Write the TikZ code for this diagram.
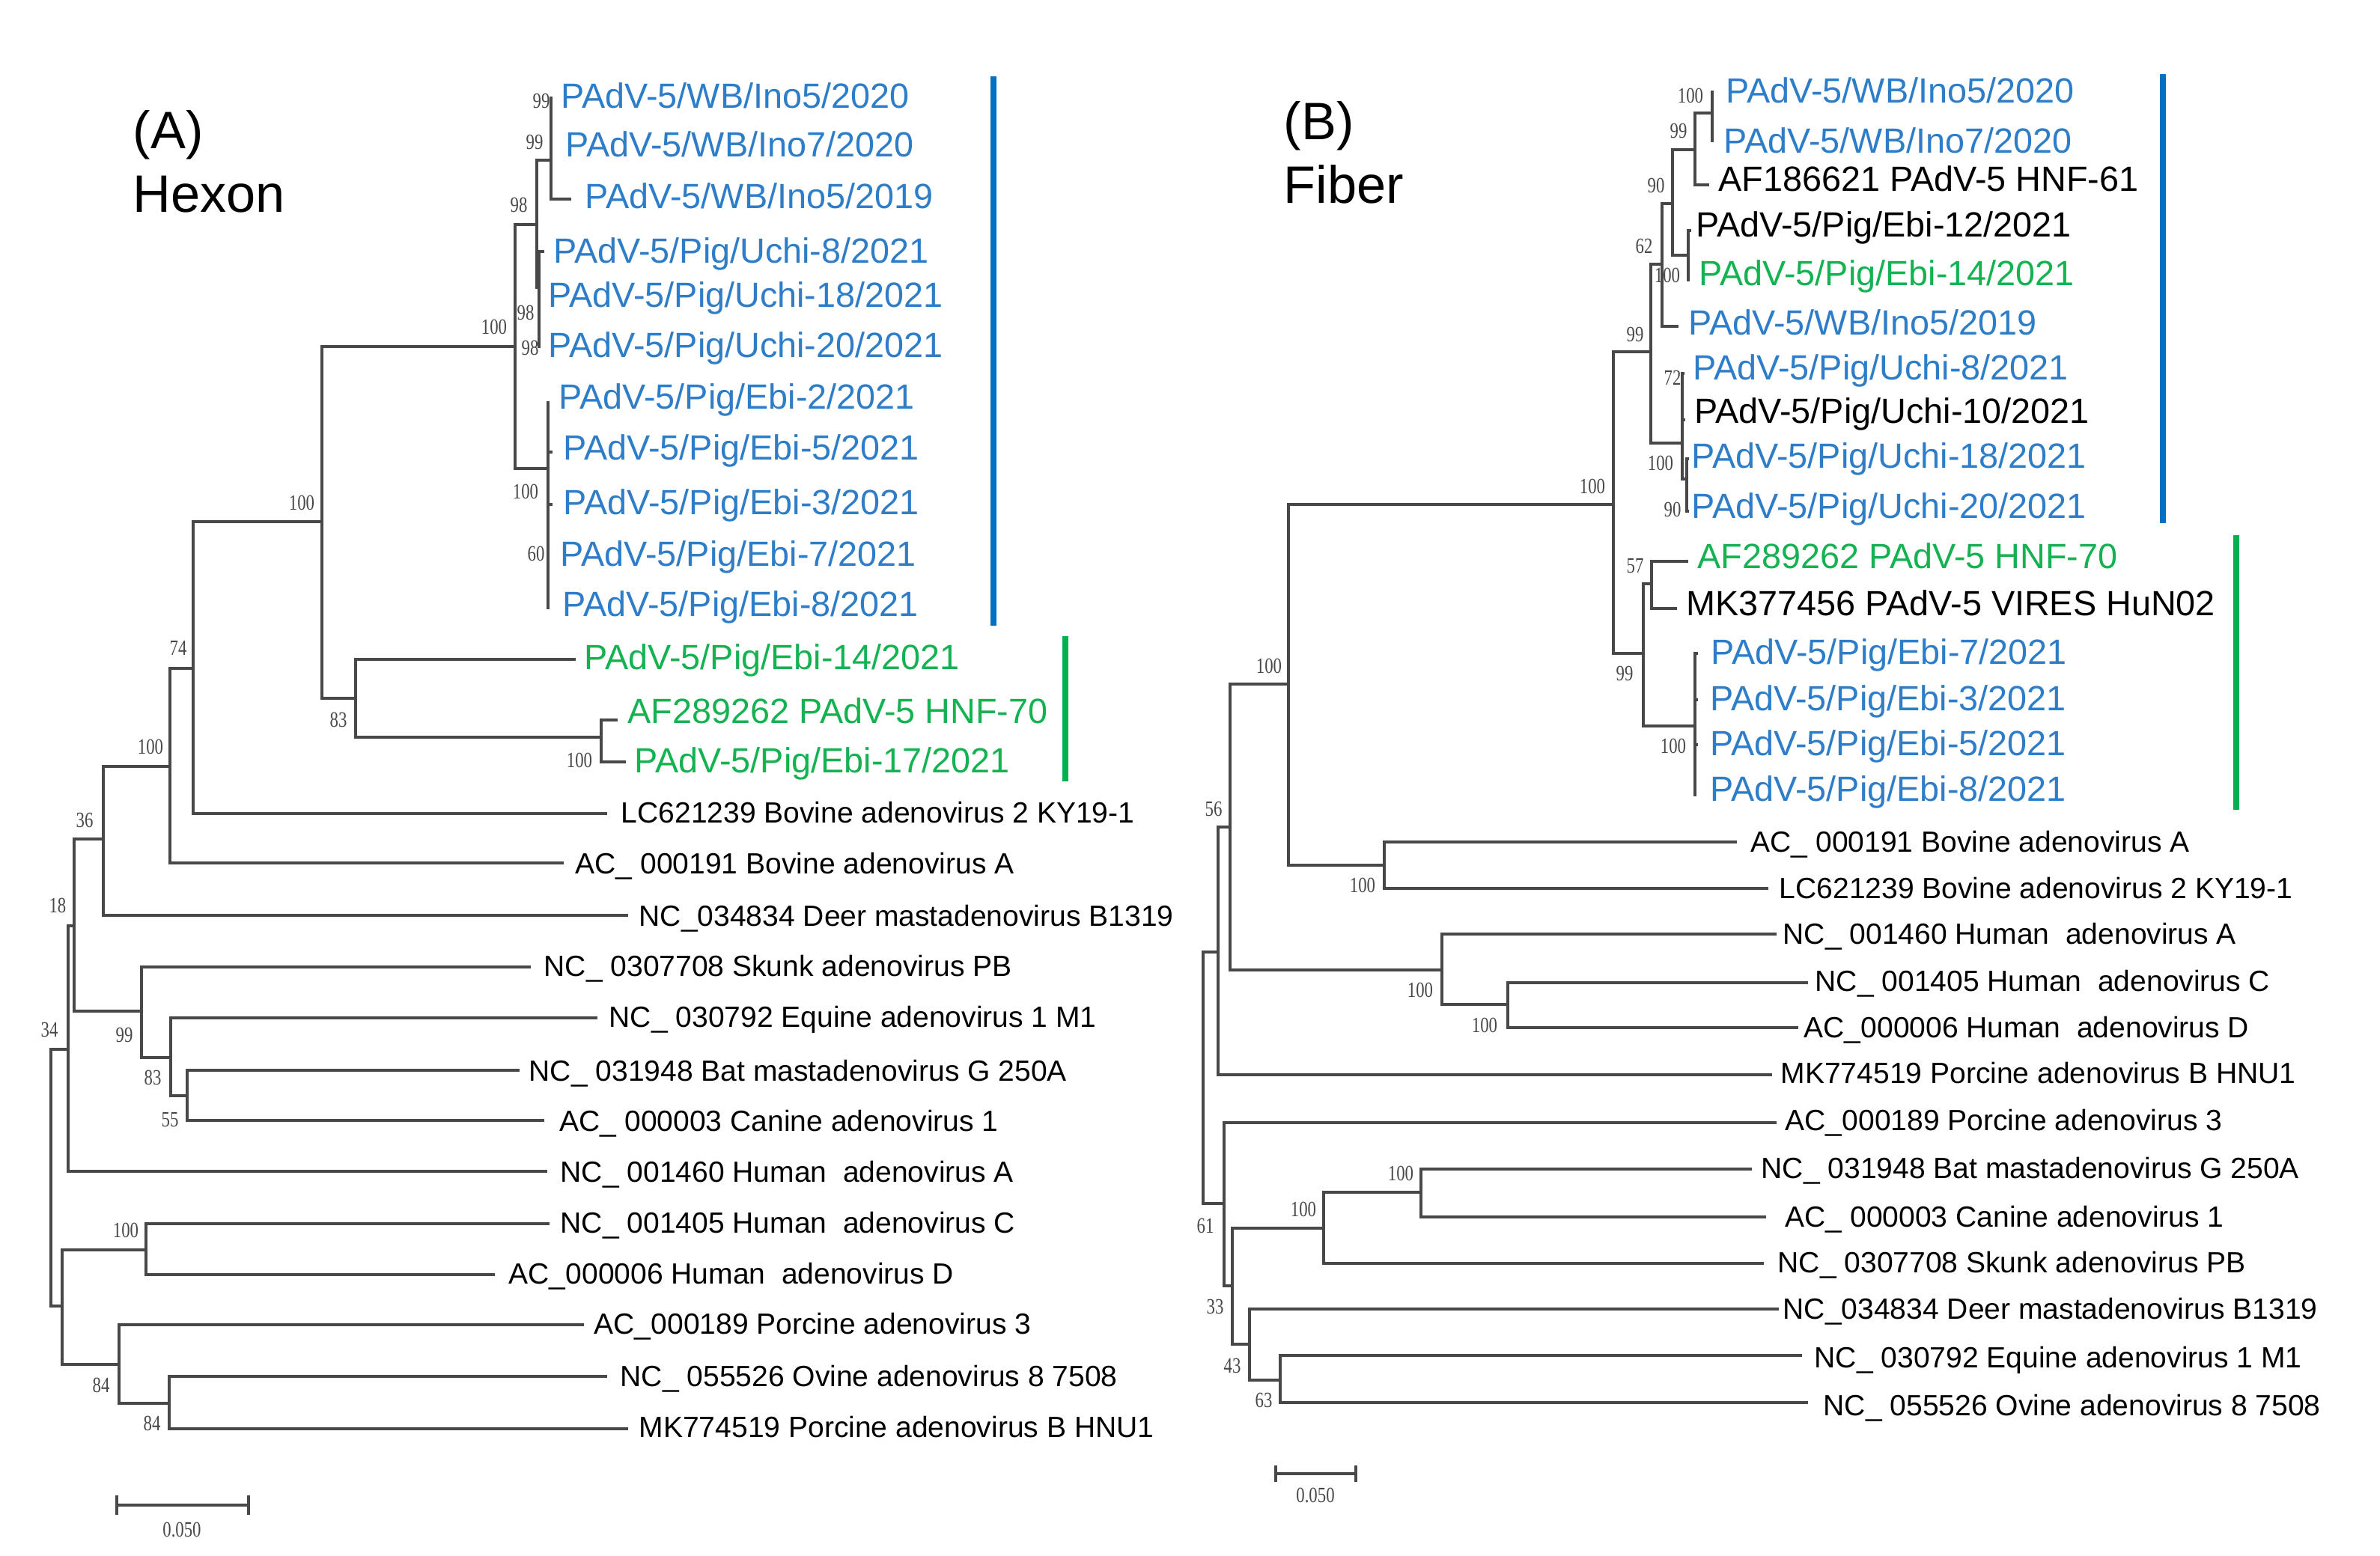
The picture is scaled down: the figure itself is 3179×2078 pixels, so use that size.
\documentclass[tikz,border=0pt]{standalone}
\usepackage{fontspec}
\setmainfont{Liberation Sans}
\newfontfamily\bsfont{Liberation Serif}
\usepackage{graphicx}
\definecolor{tblue}{RGB}{46,125,200}
\definecolor{tgreen}{RGB}{20,178,80}
\definecolor{bblue}{RGB}{0,112,192}
\definecolor{bgreen}{RGB}{0,176,80}
\definecolor{tgray}{RGB}{72,72,72}
\newcommand{\bsv}[1]{\scalebox{0.78}[1]{#1}}
\newcommand{\lf}[8]{\coordinate (t#1) at (#3,#4); \node[#7] (l#1) at (#5,#6) {#8}; \draw[branch] (#2) |- (t#1);}
\newcommand{\tbr}[2]{\draw[branch] (#1) |- (#2);}
\newcommand{\bt}[3]{\node[boot] (#1) at (#2) {\bsv{#3}};}
\begin{document}
\begin{tikzpicture}[x=0.01cm,y=-0.01cm,
  branch/.style={draw=tgray,line width=1pt},
  big/.style={anchor=west,inner sep=0pt,font=\fontsize{13.3}{13.3}\selectfont,text height=9.5pt,text depth=0pt},
  small/.style={anchor=west,inner sep=0pt,font=\fontsize{11.1}{11.1}\selectfont,text height=7.95pt,text depth=0pt},
  boot/.style={inner sep=0pt,font=\bsfont\fontsize{8.3}{8.3}\selectfont,text=tgray},
  ttl/.style={anchor=base west,inner sep=0pt,font=\fontsize{20}{20}\selectfont},
  barline/.style={line width=2.3pt}]
\fill[white] (0,0) rectangle (3179,2078);
\useasboundingbox (0,0) rectangle (3179,2078);

% ---------- titles ----------
\node[ttl] (tA) at (177,198) {(A)};
\node[ttl] (hA) at (177,283) {Hexon};
\node[ttl] (tB) at (1714,186) {(B)};
\node[ttl] (hB) at (1714,271) {Fiber};

% ---------- panel A internal nodes ----------
\coordinate (aroot) at (68,1574);
\coordinate (a18) at (91,1402);
\coordinate (ax) at (99,1237);
\coordinate (a36) at (138,1121);
\coordinate (a100a) at (227,1024);
\coordinate (a74) at (258,893);
\coordinate (a100d) at (430,697);
\coordinate (ablue) at (688,463);
\coordinate (aup) at (717,300);
\coordinate (awb) at (736,214);
\coordinate (auchi) at (720,384);
\coordinate (aebi) at (732,626);
\coordinate (a83) at (475,933);
\coordinate (aaf) at (803,985);
\coordinate (a99) at (189,1351);
\coordinate (a83b) at (228,1413);
\coordinate (a55) at (250,1464);
\coordinate (ab) at (83,1745);
\coordinate (a100c) at (195,1670);
\coordinate (a84a) at (159,1823);
\coordinate (a84b) at (226,1875);

\tbr{aroot}{a18} \tbr{aroot}{ab}
\tbr{a18}{ax}
\tbr{ax}{a36} \tbr{ax}{a99}
\tbr{a36}{a100a}
\tbr{a100a}{a74}
\tbr{a74}{a100d}
\tbr{a100d}{ablue} \tbr{a100d}{a83}
\tbr{ablue}{aup} \tbr{ablue}{aebi}
\tbr{aup}{awb} \tbr{aup}{auchi}
\tbr{a83}{aaf}
\tbr{a99}{a83b}
\tbr{a83b}{a55}
\tbr{ab}{a100c} \tbr{ab}{a84a}
\tbr{a84a}{a84b}

% ---------- panel A leaves ----------
\lf{A1}{awb}{738}{131}{749}{128}{big,text=tblue}{PAdV-5/WB/Ino5/2020}
\lf{A2}{awb}{738}{193}{755}{193}{big,text=tblue}{PAdV-5/WB/Ino7/2020}
\lf{A3}{awb}{763}{266}{781}{262}{big,text=tblue}{PAdV-5/WB/Ino5/2019}
\lf{A4}{auchi}{727}{336}{739}{335}{big,text=tblue}{PAdV-5/Pig/Uchi-8/2021}
\lf{A5}{auchi}{722}{397}{732}{394}{big,text=tblue}{PAdV-5/Pig/Uchi-18/2021}
\lf{A6}{auchi}{722}{463}{732}{461}{big,text=tblue}{PAdV-5/Pig/Uchi-20/2021}
\lf{A7}{aebi}{734}{538}{746}{530}{big,text=tblue}{PAdV-5/Pig/Ebi-2/2021}
\lf{A8}{aebi}{738}{604}{752}{598}{big,text=tblue}{PAdV-5/Pig/Ebi-5/2021}
\lf{A9}{aebi}{738}{674}{752}{671}{big,text=tblue}{PAdV-5/Pig/Ebi-3/2021}
\lf{A10}{aebi}{734}{742}{748}{740}{big,text=tblue}{PAdV-5/Pig/Ebi-7/2021}
\lf{A11}{aebi}{734}{812}{751}{807}{big,text=tblue}{PAdV-5/Pig/Ebi-8/2021}
\lf{A12}{a83}{769}{881}{780}{878}{big,text=tgreen}{PAdV-5/Pig/Ebi-14/2021}
\lf{A13}{aaf}{825}{962}{838}{950}{big,text=tgreen}{AF289262 PAdV-5 HNF-70}
\lf{A14}{aaf}{836}{1018}{847}{1016}{big,text=tgreen}{PAdV-5/Pig/Ebi-17/2021}
\lf{A15}{a74}{811}{1087}{829}{1085}{small}{LC621239 Bovine adenovirus 2 KY19-1}
\lf{A16}{a100a}{753}{1153}{768}{1153}{small}{AC\_ 000191 Bovine adenovirus A}
\lf{A17}{a36}{839}{1223}{853}{1223}{small}{NC\_034834 Deer mastadenovirus B1319}
\lf{A18}{a99}{709}{1292}{726}{1290}{small}{NC\_ 0307708 Skunk adenovirus PB}
\lf{A19}{a83b}{798}{1360}{813}{1358}{small}{NC\_ 030792 Equine adenovirus 1 M1}
\lf{A20}{a55}{694}{1430}{706}{1430}{small}{NC\_ 031948 Bat mastadenovirus G 250A}
\lf{A21}{a55}{727}{1497}{747}{1497}{small}{AC\_ 000003 Canine adenovirus 1}
\lf{A22}{a18}{731}{1565}{748}{1565}{small}{NC\_ 001460 Human~~adenovirus A}
\lf{A23}{a100c}{734}{1635}{748}{1633}{small}{NC\_ 001405 Human~~adenovirus C}
\lf{A24}{a100c}{661}{1703}{679}{1701}{small}{AC\_000006 Human~~adenovirus D}
\lf{A25}{a84a}{780}{1770}{793}{1768}{small}{AC\_000189 Porcine adenovirus 3}
\lf{A26}{a84b}{811}{1839}{828}{1838}{small}{NC\_ 055526 Ovine adenovirus 8 7508}
\lf{A27}{a84b}{839}{1909}{853}{1906}{small}{MK774519 Porcine adenovirus B HNU1}

% ---------- panel A bootstrap ----------
\bt{bA1}{723,135}{99}
\bt{bA2}{714,190}{99}
\bt{bA3}{693,274}{98}
\bt{bA4}{702,418}{98}
\bt{bA5}{708,465}{98}
\bt{bA6}{660,437}{100}
\bt{bA7}{702,657}{100}
\bt{bA8}{716,740}{60}
\bt{bA9}{403,672}{100}
\bt{bA10}{452,962}{83}
\bt{bA11}{774,1016}{100}
\bt{bA12}{238,866}{74}
\bt{bA13}{201,998}{100}
\bt{bA14}{113,1096}{36}
\bt{bA15}{77,1210}{18}
\bt{bA16}{166,1383}{99}
\bt{bA17}{204,1440}{83}
\bt{bA18}{227,1496}{55}
\bt{bA19}{66,1376}{34}
\bt{bA20}{168,1644}{100}
\bt{bA21}{135,1851}{84}
\bt{bA22}{203,1902}{84}

% ---------- panel A bars and scale ----------
\coordinate (barA1) at (1327,102); \coordinate (barA2) at (1327,836);
\draw[barline,bblue] (barA1) -- (barA2);
\coordinate (barA3) at (1423,850); \coordinate (barA4) at (1423,1044);
\draw[barline,bgreen] (barA3) -- (barA4);
\coordinate (sA1) at (156,2011); \coordinate (sA2) at (332,2011);
\draw[branch] (sA1) -- (sA2);
\draw[branch] (sA1) ++(0,-13) -- ++(0,26);
\draw[branch] (sA2) ++(0,-13) -- ++(0,26);
\bt{sAl}{243,2044}{0.050}

% ---------- panel B internal nodes ----------
\coordinate (broot) at (1607,1440);
\coordinate (ba) at (1627,1272);
\coordinate (bc) at (1643,1105);
\coordinate (b100a) at (1721,914);
\coordinate (bbov) at (1849,1156);
\coordinate (bhum) at (1926,1296);
\coordinate (bcd) at (2014,1342);
\coordinate (b61) at (1635,1608);
\coordinate (b33) at (1646,1718);
\coordinate (b100x) at (1768,1641);
\coordinate (b100y) at (1898,1593);
\coordinate (b43) at (1669,1796);
\coordinate (b63) at (1710,1844);
\coordinate (bpad) at (2155,674);
\coordinate (b99) at (2205,470);
\coordinate (b62) at (2220,353);
\coordinate (b90) at (2234,272);
\coordinate (b99t) at (2264,200);
\coordinate (b100t) at (2287,151);
\coordinate (bebi) at (2255,341);
\coordinate (buchi) at (2247,592);
\coordinate (bu2) at (2253,640);
\coordinate (b99b) at (2195,873);
\coordinate (b57) at (2206,780);
\coordinate (bebiB) at (2264,970);

\tbr{broot}{ba} \tbr{broot}{b61}
\tbr{ba}{bc}
\tbr{bc}{b100a} \tbr{bc}{bhum}
\tbr{b100a}{bpad} \tbr{b100a}{bbov}
\tbr{bhum}{bcd}
\tbr{b61}{b33}
\tbr{b33}{b100x} \tbr{b33}{b43}
\tbr{b100x}{b100y}
\tbr{b43}{b63}
\tbr{bpad}{b99} \tbr{bpad}{b99b}
\tbr{b99}{b62} \tbr{b99}{buchi}
\tbr{b62}{b90}
\tbr{b90}{b99t} \tbr{b90}{bebi}
\tbr{b99t}{b100t}
\tbr{buchi}{bu2}
\tbr{b99b}{b57} \tbr{b99b}{bebiB}

% ---------- panel B leaves ----------
\lf{B1}{b100t}{2289}{123}{2305}{121}{big,text=tblue}{PAdV-5/WB/Ino5/2020}
\lf{B2}{b100t}{2289}{188}{2302}{188}{big,text=tblue}{PAdV-5/WB/Ino7/2020}
\lf{B3}{b99t}{2283}{247}{2295}{239}{big}{AF186621 PAdV-5 HNF-61}
\lf{B4}{bebi}{2259}{308}{2265}{300}{big}{PAdV-5/Pig/Ebi-12/2021}
\lf{B5}{bebi}{2257}{374}{2269}{365}{big,text=tgreen}{PAdV-5/Pig/Ebi-14/2021}
\lf{B6}{b62}{2242}{436}{2255}{431}{big,text=tblue}{PAdV-5/WB/Ino5/2019}
\lf{B7}{buchi}{2250}{499}{2261}{491}{big,text=tblue}{PAdV-5/Pig/Uchi-8/2021}
\lf{B8}{buchi}{2251}{561}{2263}{549}{big}{PAdV-5/Pig/Uchi-10/2021}
\lf{B9}{bu2}{2256}{613}{2259}{609}{big,text=tblue}{PAdV-5/Pig/Uchi-18/2021}
\lf{B10}{bu2}{2256}{683}{2259}{676}{big,text=tblue}{PAdV-5/Pig/Uchi-20/2021}
\lf{B11}{b57}{2255}{750}{2267}{743}{big,text=tgreen}{AF289262 PAdV-5 HNF-70}
\lf{B12}{b57}{2240}{813}{2252}{806}{big}{MK377456 PAdV-5 VIRES HuN02}
\lf{B13}{bebiB}{2268}{873}{2285}{871}{big,text=tblue}{PAdV-5/Pig/Ebi-7/2021}
\lf{B14}{bebiB}{2268}{935}{2284}{933}{big,text=tblue}{PAdV-5/Pig/Ebi-3/2021}
\lf{B15}{bebiB}{2268}{995}{2284}{993}{big,text=tblue}{PAdV-5/Pig/Ebi-5/2021}
\lf{B16}{bebiB}{2266}{1062}{2284}{1054}{big,text=tblue}{PAdV-5/Pig/Ebi-8/2021}
\lf{B17}{bbov}{2320}{1125}{2338}{1124}{small}{AC\_ 000191 Bovine adenovirus A}
\lf{B18}{bbov}{2362}{1187}{2376}{1186}{small}{LC621239 Bovine adenovirus 2 KY19-1}
\lf{B19}{bhum}{2373}{1248}{2381}{1247}{small}{NC\_ 001460 Human~~adenovirus A}
\lf{B20}{bcd}{2415}{1313}{2424}{1310}{small}{NC\_ 001405 Human~~adenovirus C}
\lf{B21}{bcd}{2402}{1373}{2409}{1372}{small}{AC\_000006 Human~~adenovirus D}
\lf{B22}{ba}{2367}{1436}{2378}{1433}{small}{MK774519 Porcine adenovirus B HNU1}
\lf{B23}{b61}{2373}{1500}{2384}{1496}{small}{AC\_000189 Porcine adenovirus 3}
\lf{B24}{b100y}{2340}{1562}{2352}{1560}{small}{NC\_ 031948 Bat mastadenovirus G 250A}
\lf{B25}{b100y}{2359}{1626}{2384}{1625}{small}{AC\_ 000003 Canine adenovirus 1}
\lf{B26}{b100x}{2356}{1688}{2374}{1686}{small}{NC\_ 0307708 Skunk adenovirus PB}
\lf{B27}{b43}{2376}{1749}{2381}{1748}{small}{NC\_034834 Deer mastadenovirus B1319}
\lf{B28}{b63}{2407}{1811}{2423}{1813}{small}{NC\_ 030792 Equine adenovirus 1 M1}
\lf{B29}{b63}{2415}{1874}{2435}{1877}{small}{NC\_ 055526 Ovine adenovirus 8 7508}

% ---------- panel B bootstrap ----------
\bt{bB1}{2258,128}{100}
\bt{bB2}{2242,175}{99}
\bt{bB3}{2212,248}{90}
\bt{bB4}{2196,329}{62}
\bt{bB5}{2227,368}{100}
\bt{bB6}{2184,447}{99}
\bt{bB7}{2234,505}{72}
\bt{bB8}{2218,619}{100}
\bt{bB9}{2234,681}{90}
\bt{bB10}{2127,650}{100}
\bt{bB11}{2184,756}{57}
\bt{bB12}{2170,900}{99}
\bt{bB13}{2235,997}{100}
\bt{bB14}{1695,890}{100}
\bt{bB15}{1820,1183}{100}
\bt{bB16}{1621,1081}{56}
\bt{bB17}{1897,1323}{100}
\bt{bB18}{1983,1370}{100}
\bt{bB19}{1610,1638}{61}
\bt{bB20}{1623,1746}{33}
\bt{bB21}{1741,1616}{100}
\bt{bB22}{1871,1568}{100}
\bt{bB23}{1646,1825}{43}
\bt{bB24}{1688,1871}{63}

% ---------- panel B bars and scale ----------
\coordinate (barB1) at (2889,99); \coordinate (barB2) at (2889,699);
\draw[barline,bblue] (barB1) -- (barB2);
\coordinate (barB3) at (2987,715); \coordinate (barB4) at (2987,1082);
\draw[barline,bgreen] (barB3) -- (barB4);
\coordinate (sB1) at (1704,1969); \coordinate (sB2) at (1811,1969);
\draw[branch] (sB1) -- (sB2);
\draw[branch] (sB1) ++(0,-11) -- ++(0,22);
\draw[branch] (sB2) ++(0,-11) -- ++(0,22);
\bt{sBl}{1757,1998}{0.050}
\end{tikzpicture}
\end{document}
